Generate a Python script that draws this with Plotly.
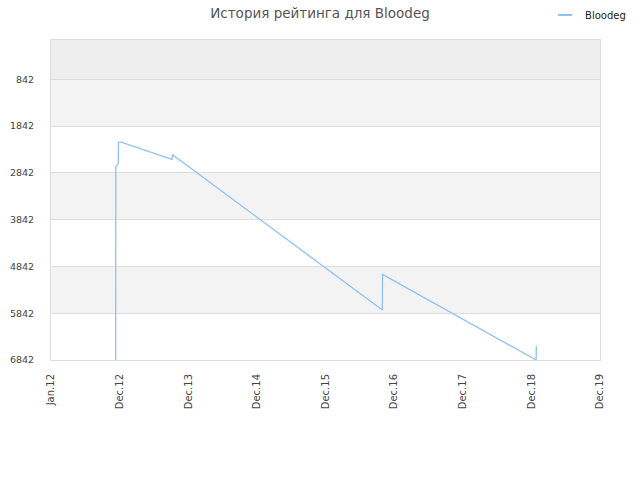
import plotly.graph_objects as go

# rating history (lower number = better place)
dates = ["2012-12-06", "2012-12-07", "2012-12-20", "2012-12-21", "2013-01-01",
         "2013-09-28", "2013-10-01", "2016-10-09", "2016-10-10",
         "2018-12-27", "2018-12-28"]
ratings = [6842, 2709, 2636, 2196, 2180, 2551, 2452, 5773, 5010, 6842, 6543]

tick_dates = ["2012-01-01", "2012-12-27", "2013-12-23", "2014-12-19", "2015-12-15",
              "2016-12-10", "2017-12-06", "2018-12-02", "2019-11-28"]
tick_text = ["Jan.12", "Dec.12", "Dec.13", "Dec.14", "Dec.15",
             "Dec.16", "Dec.17", "Dec.18", "Dec.19"]
y_ticks = [842, 1842, 2842, 3842, 4842, 5842, 6842]
band_colors = ["#eeeeee", "#f3f3f3", "#ffffff", "#f3f3f3", "#ffffff", "#f3f3f3", "#ffffff"]

line_color = "#8fc1f5"

fig = go.Figure()
fig.add_trace(go.Scatter(
    x=dates, y=ratings, mode="lines", name="Bloodeg", showlegend=False,
    line=dict(color=line_color, width=1.3),
))
# legend entry with a short dash, like the original
fig.add_trace(go.Scatter(
    x=[None], y=[None], mode="markers", name="Bloodeg",
    marker=dict(symbol="line-ew-open", size=10, color=line_color,
                line=dict(color=line_color, width=2)),
))

# horizontal background bands between the ticks
edges = [0] + y_ticks
for i in range(len(y_ticks)):
    fig.add_shape(type="rect", xref="paper", yref="y", x0=0, x1=1,
                  y0=edges[i], y1=edges[i + 1], fillcolor=band_colors[i],
                  line_width=0, layer="below")

fig.update_layout(
    width=640, height=480,
    margin=dict(l=51, r=40, t=40, b=120, autoexpand=False),
    paper_bgcolor="white", plot_bgcolor="white",
    font=dict(family="DejaVu Sans", size=10, color="#444"),
    title=dict(text="История рейтинга для Bloodeg", x=0.5, xanchor="center",
               yref="container", y=0.973, yanchor="middle",
               font=dict(size=13.5, color="#555")),
    showlegend=True,
    legend=dict(x=0.9, xanchor="left", y=1.078, yanchor="middle",
                font=dict(size=10, color="#222"), bgcolor="rgba(0,0,0,0)"),
    xaxis=dict(range=[tick_dates[0], tick_dates[-1]], tickvals=tick_dates,
               ticktext=tick_text, tickangle=-90, showgrid=False,
               showline=True, linecolor="#dddddd", mirror=True, zeroline=False,
               ticks="", ticklabelstandoff=9, automargin=False,
               tickfont=dict(size=10, color="#444")),
    yaxis=dict(range=[6842, 0], tickvals=y_ticks,
               showgrid=True, gridcolor="#dddddd", showline=True,
               linecolor="#dddddd", mirror=True, zeroline=False,
               ticks="", ticklabelstandoff=14, automargin=False,
               tickfont=dict(size=9.5, color="#444")),
)

fig.write_html("out.html", config={"displayModeBar": False},
               post_script="document.body.style.margin = '0';")
